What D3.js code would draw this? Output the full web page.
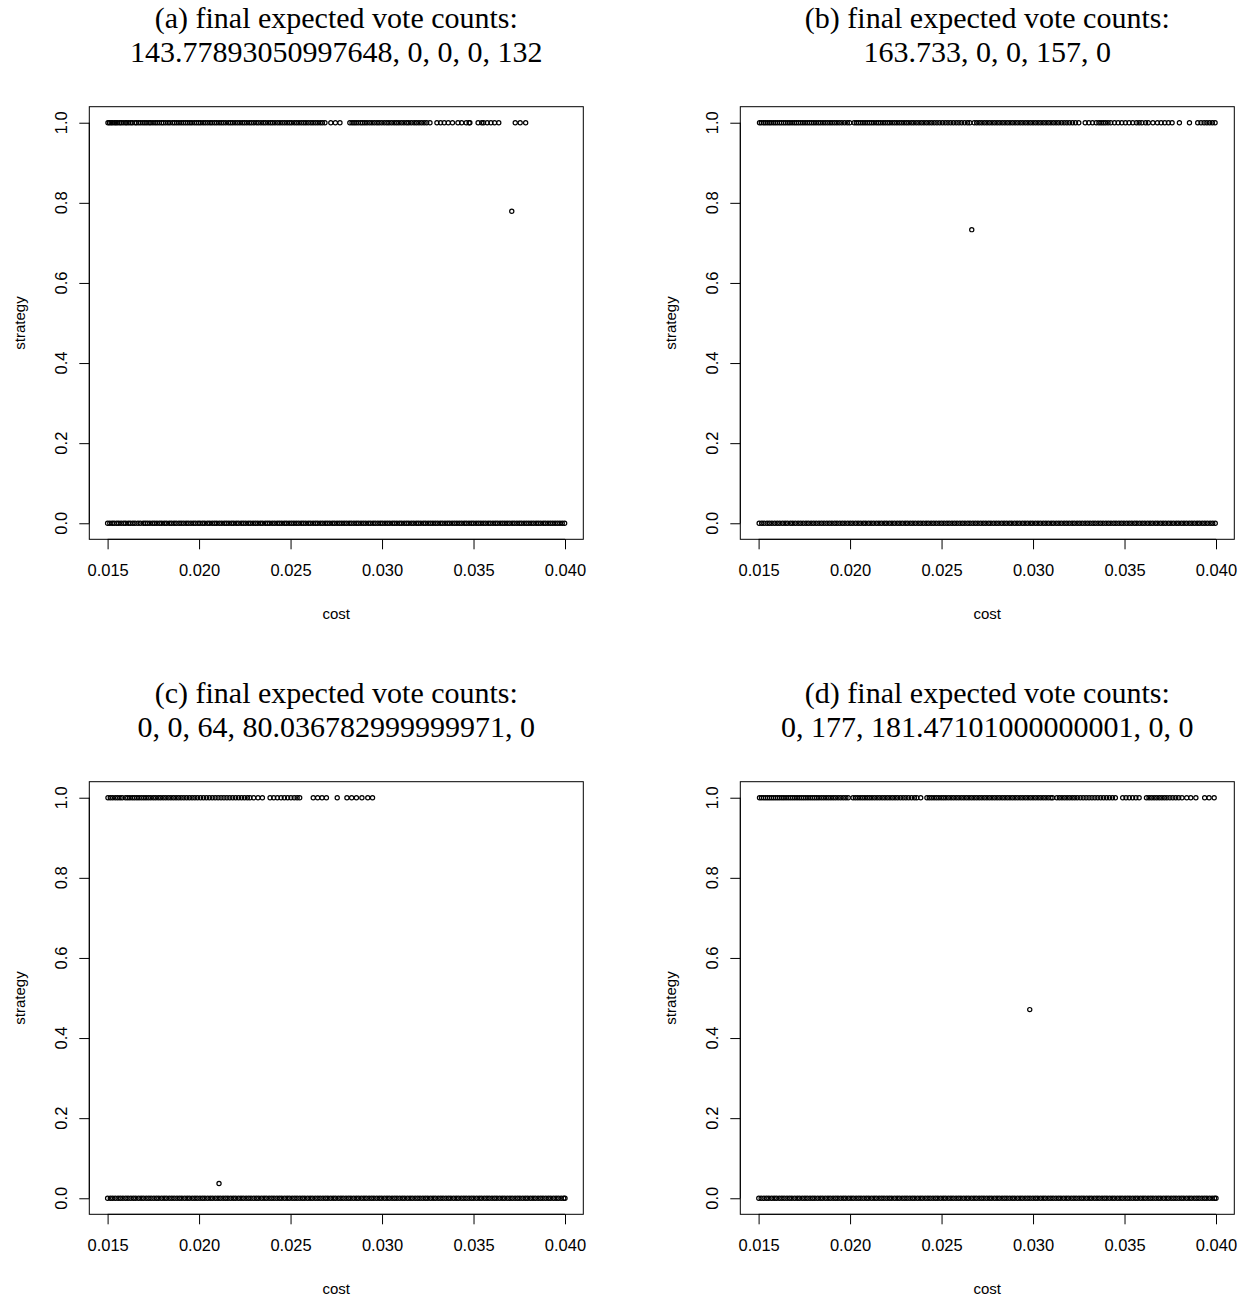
<!DOCTYPE html>
<html>
  <head>
    <meta charset="utf-8">
    <title>final expected vote counts</title>
    <style>
      body { margin: 0; background: #fff; }
      text { font-family: "Liberation Sans", Arial, sans-serif; }
      .title { font-family: "Liberation Serif", "Times New Roman", serif; }
    </style>
  </head>
  <body>
    <script src="https://d3js.org/d3.v7.min.js"></script>
    <svg id="chart" width="1254" height="1299"></svg>
    <script>
      // cost values are written in thousandths (15.0 = 0.015)
      const titlesA = ["(a) final expected vote counts:", "143.77893050997648, 0, 0, 0, 132"]
      const titlesB = ["(b) final expected vote counts:", "163.733, 0, 0, 157, 0"]
      const titlesC = ["(c) final expected vote counts:", "0, 0, 64, 80.036782999999971, 0"]
      const titlesD = ["(d) final expected vote counts:", "0, 177, 181.47101000000001, 0, 0"]

      const xTicks = [0.015, 0.020, 0.025, 0.030, 0.035, 0.040]
      const yTicks = [0.0, 0.2, 0.4, 0.6, 0.8, 1.0]

      // panel (a)
      const onesA = [15.02, 15.10, 15.19, 15.27, 15.38, 15.46, 15.55, 15.66, 15.74, 15.85, 15.97, 16.05, 16.16, 16.27, 16.36, 16.50, 16.58, 16.70, 16.81, 16.93, 17.04, 17.15, 17.27, 17.36, 17.48, 17.60, 17.71, 17.83, 17.95, 18.05, 18.17, 18.30, 18.41, 18.55, 18.66, 18.78, 18.90, 19.02, 19.14, 19.26, 19.38, 19.50, 19.61, 19.74, 19.86, 19.98, 20.09, 20.22, 20.34, 20.47, 20.60, 20.71, 20.84, 20.96, 21.09, 21.21, 21.33, 21.46, 21.60, 21.72, 21.84, 21.97, 22.10, 22.23, 22.36, 22.48, 22.61, 22.74, 22.86, 22.99, 23.12, 23.24, 23.38, 23.51, 23.63, 23.77, 23.90, 24.02, 24.15, 24.29, 24.42, 24.55, 24.68, 24.81, 24.94, 25.06, 25.20, 25.33, 25.46, 25.59, 25.72, 25.84, 25.97, 26.11, 26.23, 26.36, 26.49, 26.62, 26.74, 26.88,
        27.20, 27.45, 27.70,
        28.24, 28.36, 28.47, 28.58, 28.70, 28.83, 28.94, 29.06, 29.18, 29.32, 29.45, 29.58, 29.72, 29.84, 29.98, 30.12, 30.26, 30.38, 30.52, 30.66, 30.79, 30.92, 31.06, 31.20, 31.34, 31.46, 31.60, 31.75, 31.88, 32.02, 32.16, 32.30, 32.44,
        32.62, 33.00, 33.20, 33.40, 33.62, 33.85, 34.15, 34.35, 34.60,
        34.76, 34.80, 35.25, 35.45, 35.55, 35.75, 35.95, 36.15, 36.38,
        37.28, 37.55, 37.85]
      const zerosA = [15.00, 15.12, 15.25, 15.36, 15.50, 15.61, 15.74, 15.88, 15.99, 16.13, 16.24, 16.38, 16.50, 16.66, 16.79, 16.95, 17.06, 17.18, 17.31, 17.45, 17.57, 17.70, 17.84, 17.96, 18.10, 18.22, 18.37, 18.49, 18.63, 18.75, 18.90, 19.02, 19.15, 19.29, 19.41, 19.55, 19.68, 19.80, 19.94, 20.05, 20.19, 20.31, 20.46, 20.58, 20.72, 20.85, 20.97, 21.11, 21.24, 21.38, 21.50, 21.63, 21.77, 21.89, 22.03, 22.15, 22.30, 22.42, 22.55, 22.69, 22.81, 22.95, 23.08, 23.21, 23.35, 23.47, 23.62, 23.74, 23.86, 24.00, 24.13, 24.27, 24.39, 24.52, 24.66, 24.78, 24.92, 25.05, 25.18, 25.31, 25.44, 25.58, 25.70, 25.83, 25.97, 26.09, 26.23, 26.36, 26.48, 26.62, 26.75, 26.89, 27.01, 27.14, 27.28, 27.40, 27.54, 27.67, 27.80, 27.93, 28.06, 28.20, 28.32, 28.46, 28.59, 28.71, 28.85, 28.98, 29.11, 29.25, 29.37, 29.51, 29.63, 29.77, 29.90, 30.02, 30.16, 30.29, 30.42, 30.56, 30.68, 30.81, 30.95, 31.07, 31.21, 31.34, 31.46, 31.60, 31.73, 31.87, 31.99, 32.12, 32.26, 32.38, 32.52, 32.65, 32.78, 32.91, 33.04, 33.18, 33.30, 33.44, 33.57, 33.69, 33.83, 33.96, 34.09, 34.22, 34.35, 34.49, 34.61, 34.75, 34.88, 35.00, 35.14, 35.27, 35.40, 35.53, 35.66, 35.80, 35.92, 36.06, 36.19, 36.31, 36.45, 36.58, 36.71, 36.84, 36.97, 37.11, 37.23, 37.37, 37.50, 37.62, 37.76, 37.89, 38.02, 38.15, 38.28, 38.42, 38.54, 38.67, 38.81, 38.93, 39.07, 39.20, 39.33, 39.46, 39.59, 39.72, 39.85, 39.98]
      const midA = [37.09, 0.7789]

      // panel (b)
      const onesB = [15.05, 15.15, 15.26, 15.36, 15.47, 15.58, 15.68, 15.80, 15.91, 16.02, 16.14, 16.25, 16.37, 16.48, 16.60, 16.71, 16.83, 16.95, 17.06, 17.18, 17.30, 17.42, 17.54, 17.66, 17.78, 17.90, 18.02, 18.14, 18.27, 18.39, 18.52, 18.64, 18.77, 18.90, 19.02, 19.15, 19.28, 19.41, 19.55, 19.70, 19.85, 19.98,
        20.22, 20.34, 20.46, 20.58, 20.70, 20.82, 20.94, 21.06, 21.18, 21.30, 21.43, 21.55, 21.67, 21.80, 21.92, 22.05, 22.17, 22.30, 22.43, 22.56, 22.69, 22.82, 22.95, 23.08, 23.21, 23.35, 23.48, 23.62, 23.76, 23.90, 24.04, 24.18, 24.32, 24.46, 24.60, 24.75, 24.90, 25.05, 25.20, 25.35, 25.50, 25.65, 25.80, 25.95, 26.10, 26.26, 26.42, 26.55,
        26.78, 26.92, 27.06, 27.20, 27.34, 27.48, 27.62, 27.76, 27.90, 28.04, 28.18, 28.32, 28.46, 28.60, 28.74, 28.88, 29.02, 29.16, 29.30, 29.44, 29.58, 29.72, 29.86, 30.00, 30.14, 30.28, 30.42, 30.56, 30.70, 30.84, 30.98, 31.12, 31.26, 31.40, 31.55, 31.70, 31.85, 32.00, 32.16, 32.32, 32.50,
        32.85, 33.05, 33.25, 33.45, 33.60, 33.72, 33.84, 33.96, 34.10, 34.25, 34.45, 34.65, 34.85, 35.05, 35.25, 35.45, 35.65, 35.80,
        35.95, 36.15, 36.30, 36.55, 36.80, 37.00,
        37.20, 37.40, 37.60, 38.00, 38.55,
        39.00, 39.18, 39.35, 39.50, 39.65, 39.80, 39.95]
      const zerosB = [15.03, 15.17, 15.30, 15.46, 15.59, 15.73, 15.88, 16.02, 16.16, 16.31, 16.45, 16.58, 16.74, 16.87, 17.01, 17.16, 17.30, 17.44, 17.59, 17.72, 17.87, 18.01, 18.15, 18.30, 18.44, 18.58, 18.73, 18.87, 19.01, 19.16, 19.29, 19.44, 19.58, 19.72, 19.87, 20.01, 20.15, 20.30, 20.44, 20.58, 20.73, 20.86, 21.01, 21.15, 21.29, 21.44, 21.58, 21.72, 21.87, 22.00, 22.15, 22.29, 22.43, 22.58, 22.72, 22.86, 23.01, 23.14, 23.29, 23.43, 23.57, 23.72, 23.86, 24.00, 24.15, 24.28, 24.43, 24.57, 24.71, 24.86, 25.00, 25.14, 25.29, 25.42, 25.57, 25.71, 25.85, 26.00, 26.14, 26.28, 26.43, 26.56, 26.71, 26.85, 26.99, 27.14, 27.28, 27.42, 27.57, 27.70, 27.85, 27.99, 28.13, 28.28, 28.42, 28.56, 28.71, 28.84, 28.99, 29.13, 29.27, 29.42, 29.56, 29.70, 29.85, 29.98, 30.13, 30.27, 30.41, 30.56, 30.70, 30.84, 30.99, 31.12, 31.27, 31.41, 31.55, 31.70, 31.84, 31.98, 32.13, 32.26, 32.41, 32.55, 32.69, 32.84, 32.98, 33.12, 33.27, 33.40, 33.55, 33.69, 33.83, 33.98, 34.12, 34.26, 34.41, 34.54, 34.69, 34.83, 34.97, 35.12, 35.26, 35.40, 35.55, 35.68, 35.83, 35.97, 36.11, 36.26, 36.40, 36.54, 36.69, 36.82, 36.97, 37.11, 37.25, 37.40, 37.54, 37.68, 37.83, 37.96, 38.11, 38.25, 38.39, 38.54, 38.68, 38.82, 38.97, 39.10, 39.25, 39.39, 39.53, 39.68, 39.82, 39.96]
      const midB = [26.65, 0.733]

      // panel (c)
      const onesC = [15.02, 15.15, 15.28, 15.42, 15.55, 15.68, 15.80,
        15.98, 16.10, 16.22, 16.35, 16.47, 16.60, 16.72, 16.85, 16.98, 17.10, 17.23, 17.36, 17.50, 17.63, 17.77, 17.90, 18.04, 18.18, 18.32, 18.46, 18.60, 18.74, 18.88, 19.02, 19.17, 19.32, 19.47, 19.62, 19.77, 19.92, 20.08, 20.24, 20.40, 20.56, 20.72, 20.88, 21.04, 21.20, 21.36, 21.52, 21.68, 21.84, 22.00, 22.16, 22.32, 22.48, 22.64, 22.78,
        22.98, 23.22, 23.46,
        23.88, 24.08, 24.28, 24.48, 24.66, 24.84, 25.02, 25.20, 25.36, 25.50,
        26.24, 26.48, 26.72, 26.96,
        27.55, 28.08, 28.34, 28.60, 28.90, 29.22, 29.48]
      const zerosC = [15.00, 15.15, 15.28, 15.42, 15.57, 15.70, 15.84, 15.99, 16.12, 16.27, 16.41, 16.54, 16.69, 16.83, 16.96, 17.11, 17.25, 17.38, 17.53, 17.67, 17.80, 17.95, 18.09, 18.22, 18.37, 18.51, 18.64, 18.79, 18.93, 19.06, 19.21, 19.35, 19.48, 19.63, 19.77, 19.90, 20.05, 20.19, 20.32, 20.47, 20.61, 20.74, 20.89, 21.03, 21.16, 21.31, 21.45, 21.58, 21.73, 21.87, 22.00, 22.15, 22.29, 22.42, 22.57, 22.71, 22.84, 22.99, 23.13, 23.26, 23.41, 23.55, 23.68, 23.83, 23.97, 24.10, 24.25, 24.39, 24.52, 24.67, 24.81, 24.94, 25.09, 25.23, 25.36, 25.51, 25.65, 25.78, 25.93, 26.07, 26.20, 26.35, 26.49, 26.62, 26.77, 26.91, 27.04, 27.19, 27.33, 27.46, 27.61, 27.75, 27.88, 28.03, 28.17, 28.30, 28.45, 28.59, 28.72, 28.87, 29.01, 29.14, 29.29, 29.43, 29.56, 29.71, 29.85, 29.98, 30.13, 30.27, 30.40, 30.55, 30.69, 30.82, 30.97, 31.11, 31.24, 31.39, 31.53, 31.66, 31.81, 31.95, 32.08, 32.23, 32.37, 32.50, 32.65, 32.79, 32.92, 33.07, 33.21, 33.34, 33.49, 33.63, 33.76, 33.91, 34.05, 34.18, 34.33, 34.47, 34.60, 34.75, 34.89, 35.02, 35.17, 35.31, 35.44, 35.59, 35.73, 35.86, 36.01, 36.15, 36.28, 36.43, 36.57, 36.70, 36.85, 36.99, 37.12, 37.27, 37.41, 37.54, 37.69, 37.83, 37.96, 38.11, 38.25, 38.38, 38.53, 38.67, 38.80, 38.95, 39.09, 39.22, 39.37, 39.51, 39.64, 39.79, 39.93, 40.00]
      const midC = [21.09, 0.0368]

      // panel (d)
      const onesD = [15.05, 15.16, 15.27, 15.38, 15.49, 15.60, 15.71, 15.82, 15.93, 16.04, 16.15, 16.27, 16.38, 16.50, 16.62, 16.74, 16.86, 16.98, 17.10, 17.22, 17.34, 17.46, 17.58, 17.70, 17.82, 17.94, 18.06, 18.18, 18.30, 18.43, 18.56, 18.69, 18.82, 18.95, 19.08, 19.21, 19.35, 19.49, 19.63, 19.77, 19.90,
        20.16, 20.29, 20.42, 20.55, 20.68, 20.81, 20.94, 21.07, 21.20, 21.34, 21.48, 21.62, 21.76, 21.90, 22.04, 22.18, 22.32, 22.46, 22.60, 22.75, 22.90, 23.05, 23.20, 23.36, 23.52, 23.65,
        23.86,
        24.20, 24.33, 24.46, 24.59, 24.72, 24.85, 24.98, 25.11, 25.24, 25.38, 25.52, 25.66, 25.80, 25.94, 26.08, 26.22, 26.36, 26.50, 26.64, 26.78, 26.92, 27.06, 27.20, 27.34, 27.48, 27.62, 27.76, 27.90, 28.04, 28.18, 28.32, 28.46, 28.60, 28.74, 28.88, 29.02, 29.16, 29.30, 29.44, 29.58, 29.72, 29.86, 30.00, 30.14, 30.28, 30.42, 30.56, 30.70, 30.84, 30.98, 31.07,
        31.30, 31.44, 31.58, 31.72, 31.86, 32.00, 32.14, 32.28, 32.42, 32.58, 32.74, 32.90, 33.06, 33.22, 33.38, 33.54, 33.70, 33.86, 34.02, 34.18, 34.34, 34.50,
        34.90, 35.08, 35.26, 35.44, 35.62, 35.80,
        36.20, 36.34, 36.48, 36.62, 36.76, 36.90, 37.04, 37.18, 37.32, 37.48, 37.64, 37.80, 37.96, 38.14,
        38.40, 38.62, 38.90, 39.38, 39.62, 39.90]
      const zerosD = [15.01, 15.14, 15.29, 15.43, 15.56, 15.71, 15.85, 15.98, 16.13, 16.27, 16.40, 16.55, 16.69, 16.82, 16.97, 17.11, 17.24, 17.39, 17.53, 17.66, 17.81, 17.95, 18.08, 18.23, 18.37, 18.50, 18.65, 18.79, 18.92, 19.07, 19.21, 19.34, 19.49, 19.63, 19.76, 19.91, 20.05, 20.18, 20.33, 20.47, 20.60, 20.75, 20.89, 21.02, 21.17, 21.31, 21.44, 21.59, 21.73, 21.86, 22.01, 22.15, 22.28, 22.43, 22.57, 22.70, 22.85, 22.99, 23.12, 23.27, 23.41, 23.54, 23.69, 23.83, 23.96, 24.11, 24.25, 24.38, 24.53, 24.67, 24.80, 24.95, 25.09, 25.22, 25.37, 25.51, 25.64, 25.79, 25.93, 26.06, 26.21, 26.35, 26.48, 26.63, 26.77, 26.90, 27.05, 27.19, 27.32, 27.47, 27.61, 27.74, 27.89, 28.03, 28.16, 28.31, 28.45, 28.58, 28.73, 28.87, 29.00, 29.15, 29.29, 29.42, 29.57, 29.71, 29.84, 29.99, 30.13, 30.26, 30.41, 30.55, 30.68, 30.83, 30.97, 31.10, 31.25, 31.39, 31.52, 31.67, 31.81, 31.94, 32.09, 32.23, 32.36, 32.51, 32.65, 32.78, 32.93, 33.07, 33.20, 33.35, 33.49, 33.62, 33.77, 33.91, 34.04, 34.19, 34.33, 34.46, 34.61, 34.75, 34.88, 35.03, 35.17, 35.30, 35.45, 35.59, 35.72, 35.87, 36.01, 36.14, 36.29, 36.43, 36.56, 36.71, 36.85, 36.98, 37.13, 37.27, 37.40, 37.55, 37.69, 37.82, 37.97, 38.11, 38.24, 38.39, 38.53, 38.66, 38.81, 38.95, 39.08, 39.23, 39.37, 39.50, 39.65, 39.79, 39.92, 40.00]
      const midD = [29.82, 0.471]

      const panels = [
        {titles: titlesA, ones: onesA, zeros: zerosA, mid: midA, ox: 0, oy: 0},
        {titles: titlesB, ones: onesB, zeros: zerosB, mid: midB, ox: 651, oy: 0},
        {titles: titlesC, ones: onesC, zeros: zerosC, mid: midC, ox: 0, oy: 675},
        {titles: titlesD, ones: onesD, zeros: zerosD, mid: midD, ox: 651, oy: 675}
      ]

      // plot region inside each panel (R style, axes extended 4%)
      const boxLeft = 89.3, boxRight = 583.3, boxTop = 106.7, boxBottom = 539.3

      const x = d3.scaleLinear().domain([0.014, 0.041]).range([boxLeft, boxRight])
      const y = d3.scaleLinear().domain([-0.04, 1.04]).range([boxBottom, boxTop])

      const svg = d3.select('#chart')
      svg.append('rect').attr('width', 1254).attr('height', 1299).attr('fill', '#fff')

      panels.forEach(p => {
        const g = svg.append('g').attr('transform', `translate(${p.ox},${p.oy})`)

        // title, two lines
        g.selectAll('text.title')
          .data(p.titles)
          .join('text')
          .attr('class', 'title')
          .attr('x', (boxLeft + boxRight) / 2)
          .attr('y', (d, i) => 28 + i * 34)
          .attr('text-anchor', 'middle')
          .attr('font-size', 30)
          .attr('fill', '#000')
          .text(d => d)

        // box
        g.append('rect')
          .attr('x', boxLeft).attr('y', boxTop)
          .attr('width', boxRight - boxLeft).attr('height', boxBottom - boxTop)
          .attr('fill', 'none').attr('stroke', '#000').attr('stroke-width', 1)

        // x axis
        const xa = g.append('g').attr('transform', `translate(0,${boxBottom})`)
          .call(d3.axisBottom(x).tickValues(xTicks).tickFormat(d3.format('.3f')).tickSize(10).tickPadding(15))
        xa.select('.domain').remove()
        xa.append('line')
          .attr('x1', x(xTicks[0])).attr('x2', x(xTicks[xTicks.length - 1]))
          .attr('stroke', '#000')
        xa.selectAll('text').attr('font-size', 16.5).attr('font-family', '"Liberation Sans", Arial, sans-serif').attr('fill', '#000')
        xa.selectAll('line').attr('stroke', '#000')

        // y axis
        const ya = g.append('g').attr('transform', `translate(${boxLeft},0)`)
          .call(d3.axisLeft(y).tickValues(yTicks).tickFormat('').tickSize(10))
        ya.select('.domain').remove()
        ya.append('line')
          .attr('y1', y(yTicks[0])).attr('y2', y(yTicks[yTicks.length - 1]))
          .attr('stroke', '#000')
        ya.selectAll('line').attr('stroke', '#000')
        g.selectAll('text.ylab')
          .data(yTicks)
          .join('text')
          .attr('class', 'ylab')
          .attr('transform', d => `translate(67,${y(d)}) rotate(-90)`)
          .attr('text-anchor', 'middle')
          .attr('font-size', 16.5)
          .text(d3.format('.1f'))

        // axis titles
        g.append('text')
          .attr('x', (boxLeft + boxRight) / 2).attr('y', 619)
          .attr('text-anchor', 'middle').attr('font-size', 15)
          .text('cost')
        g.append('text')
          .attr('transform', `translate(25,${(boxTop + boxBottom) / 2}) rotate(-90)`)
          .attr('text-anchor', 'middle').attr('font-size', 15)
          .text('strategy')

        // points
        const pts = p.zeros.map(c => [c, 0]).concat(p.ones.map(c => [c, 1])).concat([p.mid])
        g.selectAll('circle')
          .data(pts)
          .join('circle')
          .attr('cx', d => x(d[0] / 1000))
          .attr('cy', d => y(d[1]))
          .attr('r', 2.1)
          .attr('fill', 'none')
          .attr('stroke', '#000')
          .attr('stroke-width', 1.2)
      })
    </script>
  </body>
</html>
